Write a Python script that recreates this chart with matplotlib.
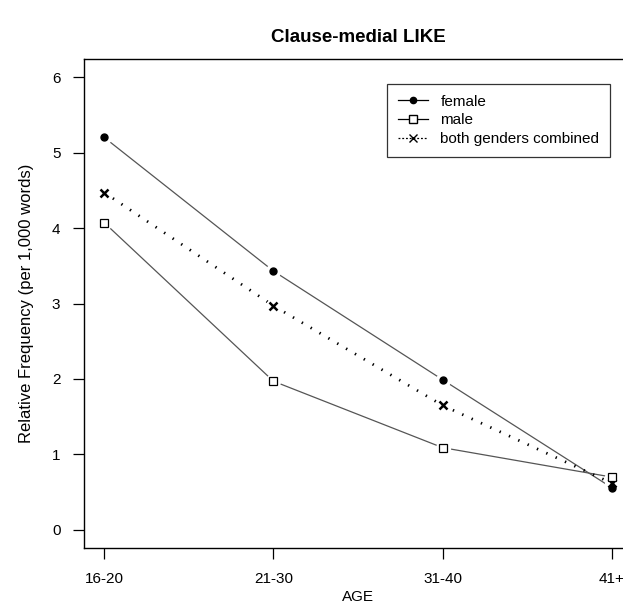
import matplotlib
matplotlib.use("Agg")
import matplotlib.pyplot as plt
from matplotlib.lines import Line2D

plt.rcParams['font.family'] = ['Liberation Sans', 'DejaVu Sans']

age_groups = ["16-20", "21-30", "31-40", "41+"]
female = [5.20, 3.43, 1.99, 0.56]
male = [4.07, 1.97, 1.09, 0.70]
combined = [4.47, 2.97, 1.65, 0.62]
y_ticks = [0, 1, 2, 3, 4, 5, 6]

fig = plt.figure(figsize=(6.23, 6.05), dpi=100)
ax = fig.add_axes([84/623, 1-548/605, (632-84)/623, (548-59)/605])

x = list(range(len(age_groups)))

line_col = '#555555'
# lines
ax.plot(x, female, color=line_col, lw=0.9, zorder=2)
ax.plot(x, male, color=line_col, lw=0.9, zorder=2)
ax.plot(x, combined, color='black', lw=2.0, ls=(0, (0.5, 3.2)), zorder=2)
# gaps around points (R type="b")
for ys in (female, male, combined):
    ax.plot(x, ys, ls='none', marker='o', ms=11, mfc='white', mec='none', zorder=3)
# markers
ax.plot(x, combined, ls='none', marker='x', ms=5.5, mew=1.8, color='black', zorder=4)
ax.plot(x, male, ls='none', marker='s', ms=6, mfc='white', mec='black', mew=0.9, zorder=5)
ax.plot(x, female, ls='none', marker='o', ms=5, color='black', zorder=6)

n = len(age_groups) - 1
ax.set_xlim(-0.04*n, n + 0.04*n)
ax.set_ylim(-0.24, 6.24)
ax.set_xticks(x)
ax.set_xticklabels(age_groups)
ax.set_yticks(y_ticks)
ax.tick_params(axis='both', direction='out', length=8, width=0.9, labelsize=11, pad=9, colors='black')
for s in ax.spines.values():
    s.set_linewidth(1.0)

ax.set_xlabel("AGE", fontsize=11, labelpad=3)
ax.set_ylabel("Relative Frequency (per 1,000 words)", fontsize=12, labelpad=13)
fig.text(358/623, 1-38/605, "Clause-medial LIKE", ha='center', va='center',
         fontsize=13.5, fontweight='bold')

handles = [
    Line2D([], [], color='black', lw=0.9, marker='o', ms=4.5),
    Line2D([], [], color='black', lw=0.9, marker='s', ms=5.5, mfc='white'),
    Line2D([], [], color='black', lw=0.9, ls=(0, (1.5, 1.5)), marker='x', ms=5.5),
]
leg = ax.legend(handles, ["female", "male", "both genders combined"],
                loc='upper left', bbox_to_anchor=(387/623, 1-84/605),
                bbox_transform=fig.transFigure, fontsize=11, frameon=True,
                fancybox=False, edgecolor='black', handlelength=2.0,
                handletextpad=0.8, labelspacing=0.3, borderpad=0.7,
                borderaxespad=0)
leg.get_frame().set_linewidth(0.9)

fig.savefig("out.png", dpi=100)
